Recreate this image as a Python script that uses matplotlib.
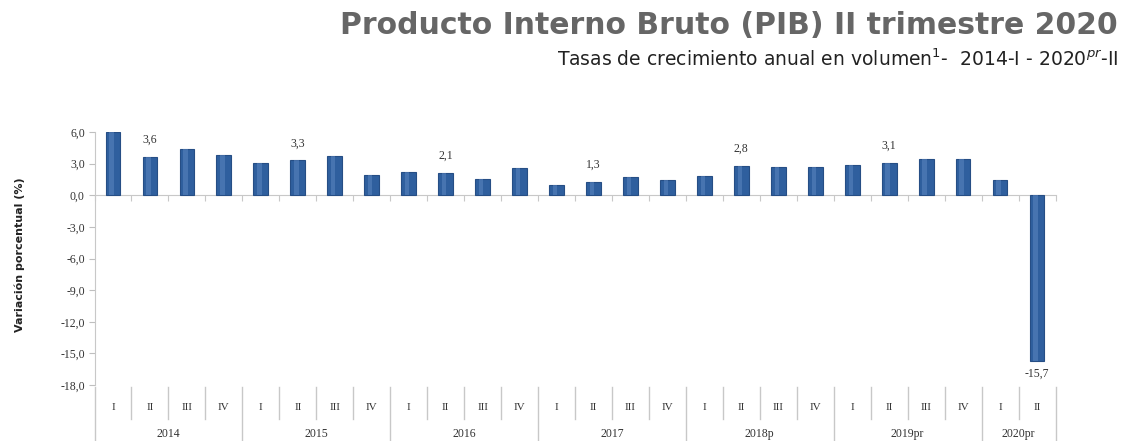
import numpy as np
import matplotlib
matplotlib.use("Agg")
import matplotlib.pyplot as plt
from matplotlib.ticker import FuncFormatter
from matplotlib.transforms import blended_transform_factory

# data
years = ["2014", "2015", "2016", "2017", "2018p", "2019pr", "2020pr"]
quarters = ["I", "II", "III", "IV"]
n_quarters = [4, 4, 4, 4, 4, 4, 2]
values = [6.0, 3.6, 4.4, 3.8,
          3.1, 3.3, 3.7, 1.9,
          2.2, 2.1, 1.5, 2.6,
          1.0, 1.3, 1.7, 1.4,
          1.8, 2.8, 2.7, 2.7,
          2.9, 3.1, 3.4, 3.4,
          1.4, -15.7]
labelled = [1, 5, 9, 13, 17, 21, 25]   # bars that carry a value label
yticks = [6, 3, 0, -3, -6, -9, -12, -15, -18]

W, H = 1128, 441
fig = plt.figure(figsize=(W / 100, H / 100), dpi=100)
ax = fig.add_axes([94.5 / W, 1 - 385 / H, (1055.5 - 94.5) / W, (385 - 132) / H])

x = np.arange(len(values))
ax.bar(x, values, width=0.4, color="#2f5f9e", edgecolor="#264e85", linewidth=0.8, zorder=3)
# light centre stripe for the cylinder look
ax.bar(x - 0.04, values, width=0.12, color="#5b86c0", linewidth=0, alpha=0.55, zorder=4)

ax.set_xlim(-0.5, len(values) - 0.5)
ax.set_ylim(-18, 6)
ax.set_yticks(yticks)
ax.yaxis.set_major_formatter(FuncFormatter(lambda v, p: f"{v:.1f}".replace(".", ",")))
ax.tick_params(axis="y", direction="out", length=4, color="#bfbfbf", labelsize=8.5,
               labelcolor="#333333", pad=3)
for t in ax.get_yticklabels():
    t.set_family("Liberation Serif")

for s in ["top", "right"]:
    ax.spines[s].set_visible(False)
ax.spines["left"].set_color("#c8c8c8")
ax.spines["bottom"].set_position(("data", 0))
ax.spines["bottom"].set_color("#c8c8c8")
ax.set_xticks(np.arange(-0.5, len(values), 1.0))
ax.tick_params(axis="x", direction="out", length=4, color="#c8c8c8", labelbottom=False)

# value labels
for i in labelled:
    v = values[i]
    txt = f"{v:.1f}".replace(".", ",")
    if v >= 0:
        ax.annotate(txt, (i, v), xytext=(0, 8), textcoords="offset points",
                    ha="center", va="bottom", fontsize=8.5, color="#333333",
                    family="Liberation Serif")
    else:
        ax.annotate(txt, (i, v), xytext=(0, -5), textcoords="offset points",
                    ha="center", va="top", fontsize=8.5, color="#333333",
                    family="Liberation Serif")

# two-level category axis below the plot
tr = blended_transform_factory(ax.transData, fig.transFigure)
y_top = 1 - 387 / H
y_q = 1 - 419 / H
y_bot = 0.0
pos = 0
for yr, nq in zip(years, n_quarters):
    ax.plot([pos - 0.5, pos - 0.5], [y_top, y_bot], color="#c8c8c8", lw=1,
            transform=tr, clip_on=False)
    for q in range(nq):
        if q > 0:
            ax.plot([pos + q - 0.5, pos + q - 0.5], [y_top, y_q], color="#c8c8c8",
                    lw=1, transform=tr, clip_on=False)
        ax.text(pos + q, 1 - 407 / H, quarters[q], transform=tr, ha="center",
                va="center", fontsize=8, color="#333333", family="Liberation Serif")
    ax.text(pos + (nq - 1) / 2, 1 - 434 / H, yr, transform=tr, ha="center",
            va="center", fontsize=8.5, color="#333333", family="Liberation Serif")
    pos += nq
ax.plot([pos - 0.5, pos - 0.5], [y_top, y_bot], color="#c8c8c8", lw=1,
        transform=tr, clip_on=False)

fig.text(20 / W, 1 - 255 / H, "Variación porcentual (%)", rotation=90, ha="center",
         va="center", fontsize=8, fontweight="bold", color="#222222")

fig.text(1118 / W, 1 - 26 / H, "Producto Interno Bruto (PIB) II trimestre 2020",
         ha="right", va="center", fontsize=21.5, fontweight="bold", color="#666666")
fig.text(1118 / W, 1 - 59 / H,
         "Tasas de crecimiento anual en volumen$^{1}$-  2014-I - 2020$^{pr}$-II",
         ha="right", va="center", fontsize=13.5, color="#222222")

fig.savefig("out.png", dpi=100)
